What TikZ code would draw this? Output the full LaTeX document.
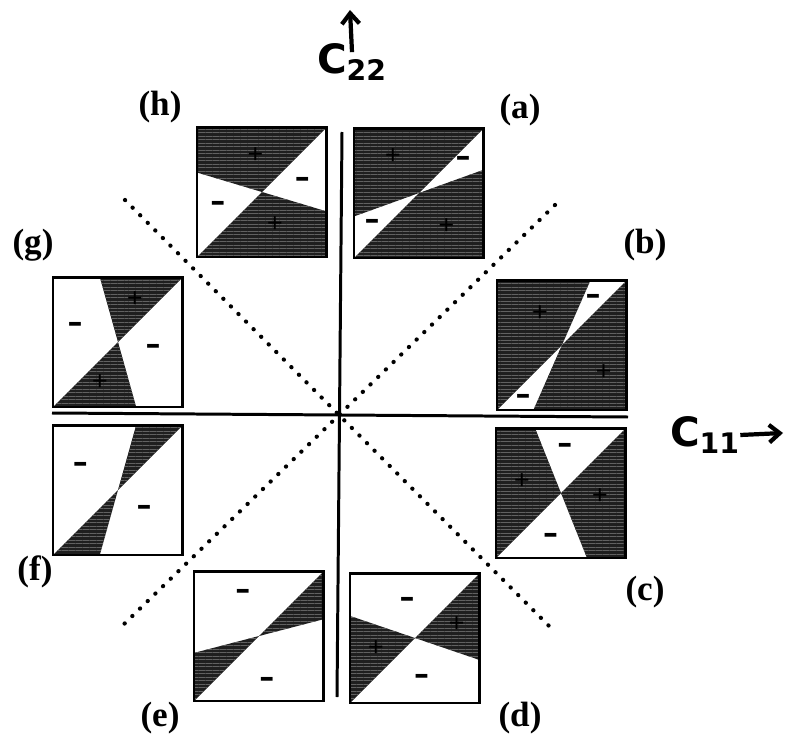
\documentclass[tikz,border=0pt]{standalone}
\usepackage{fontspec}
\setmainfont{Liberation Serif}
\newfontfamily\handfont{DejaVu Sans}
\usetikzlibrary{patterns.meta, arrows.meta}

\begin{document}
\begin{tikzpicture}[
  x=0.02cm, y=-0.02cm,
  dark/.style={preaction={fill=black!88},
               pattern={Lines[angle=0, distance=2pt, line width=0.4pt]},
               pattern color=black!62},
  panelbox/.style={draw, line width=1.7pt},
  axis/.style={line width=1.7pt},
  diag/.style={line width=2.4pt, dash pattern=on 0.1pt off 6pt, line cap=round},
  minus/.style={font=\handfont\bfseries\fontsize{17}{17}\selectfont, inner sep=0pt},
  plus/.style={font=\fontsize{16}{16}\selectfont\bfseries, text=black, inner sep=0pt},
  tag/.style={font=\fontsize{20}{22}\selectfont\bfseries},
  hand/.style={font=\handfont\bfseries\fontsize{23}{25}\selectfont, inner sep=0pt},
  scribble/.style={-{Straight Barb[length=6pt, width=10pt]}, line width=2.4pt}
]
\useasboundingbox (0,0) rectangle (785,737);

% axes and diagonals
\coordinate (ytop) at (342,132);
\coordinate (ybot) at (337,697);
\coordinate (xl) at (52,413);
\coordinate (xr) at (628,417);
\coordinate (dul) at (125,200);
\coordinate (ddr) at (555,632);
\coordinate (dur) at (555,205);
\coordinate (ddl) at (120,628);
\draw[diag] (dul) -- (ddr);
\draw[diag] (dur) -- (ddl);
\draw[axis] (ytop) -- (ybot);
\draw[axis] (xl) -- (xr);

% (h)
\begin{scope}[shift={(197,257)}, x=2.6cm, y=2.6cm]
  \path[dark] (0.5,0.5) -- (1,1) -- (0,1) -- (0,0.65) -- cycle;
  \path[dark] (0.5,0.5) -- (0,0) -- (1,0) -- (1,0.35) -- cycle;
  \draw[panelbox] (0,0) rectangle (1,1);
  \node[minus] (hm1) at (0.16,0.39) {\textendash};
  \node[minus] (hm2) at (0.81,0.57) {\textendash};
  \node[plus] (hp1) at (0.45,0.78) {+};
  \node[plus] (hp2) at (0.60,0.25) {+};
\end{scope}

% (a)
\begin{scope}[shift={(354,258)}, x=2.6cm, y=2.6cm]
  \path[dark] (0.5,0.5) -- (1,1) -- (0,1) -- (0,0.32) -- cycle;
  \path[dark] (0.5,0.5) -- (0,0) -- (1,0) -- (1,0.68) -- cycle;
  \draw[panelbox] (0,0) rectangle (1,1);
  \node[minus] (am1) at (0.84,0.74) {\textendash};
  \node[minus] (am2) at (0.14,0.26) {\textendash};
  \node[plus] (ap1) at (0.30,0.78) {+};
  \node[plus] (ap2) at (0.71,0.24) {+};
\end{scope}

% (b)
\begin{scope}[shift={(497,410)}, x=2.6cm, y=2.6cm]
  \path[dark] (0.5,0.5) -- (0.72,1) -- (0,1) -- (0,0) -- cycle;
  \path[dark] (0.5,0.5) -- (0.28,0) -- (1,0) -- (1,1) -- cycle;
  \draw[panelbox] (0,0) rectangle (1,1);
  \node[minus] (bm1) at (0.74,0.85) {\textendash};
  \node[minus] (bm2) at (0.20,0.08) {\textendash};
  \node[plus] (bp1) at (0.33,0.74) {+};
  \node[plus] (bp2) at (0.82,0.29) {+};
\end{scope}

% (c)
\begin{scope}[shift={(496,558)}, x=2.6cm, y=2.6cm]
  \path[dark] (0.5,0.5) -- (0.3,1) -- (0,1) -- (0,0) -- cycle;
  \path[dark] (0.5,0.5) -- (0.7,0) -- (1,0) -- (1,1) -- cycle;
  \draw[panelbox] (0,0) rectangle (1,1);
  \node[minus] (cm1) at (0.53,0.84) {\textendash};
  \node[minus] (cm2) at (0.42,0.15) {\textendash};
  \node[plus] (cp1) at (0.20,0.59) {+};
  \node[plus] (cp2) at (0.80,0.47) {+};
\end{scope}

% (d)
\begin{scope}[shift={(350,703)}, x=2.6cm, y=2.6cm]
  \path[dark] (0.5,0.5) -- (0,0.67) -- (0,0) -- cycle;
  \path[dark] (0.5,0.5) -- (1,1) -- (1,0.33) -- cycle;
  \draw[panelbox] (0,0) rectangle (1,1);
  \node[minus] (dm1) at (0.44,0.77) {\textendash};
  \node[minus] (dm2) at (0.55,0.18) {\textendash};
  \node[plus] (dp1) at (0.20,0.42) {+};
  \node[plus] (dp2) at (0.82,0.60) {+};
\end{scope}

% (e)
\begin{scope}[shift={(194,701)}, x=2.6cm, y=2.6cm]
  \path[dark] (0.5,0.5) -- (1,1) -- (1,0.63) -- cycle;
  \path[dark] (0.5,0.5) -- (0,0) -- (0,0.37) -- cycle;
  \draw[panelbox] (0,0) rectangle (1,1);
  \node[minus] (em1) at (0.375,0.82) {\textendash};
  \node[minus] (em2) at (0.56,0.14) {\textendash};
\end{scope}

% (f)
\begin{scope}[shift={(53,555)}, x=2.6cm, y=2.6cm]
  \path[dark] (0.5,0.5) -- (0.64,1) -- (1,1) -- cycle;
  \path[dark] (0.5,0.5) -- (0,0) -- (0.36,0) -- cycle;
  \draw[panelbox] (0,0) rectangle (1,1);
  \node[minus] (fm1) at (0.21,0.67) {\textendash};
  \node[minus] (fm2) at (0.70,0.34) {\textendash};
\end{scope}

% (g)
\begin{scope}[shift={(53,407)}, x=2.6cm, y=2.6cm]
  \path[dark] (0.5,0.5) -- (0.36,1) -- (1,1) -- cycle;
  \path[dark] (0.5,0.5) -- (0,0) -- (0.64,0) -- cycle;
  \draw[panelbox] (0,0) rectangle (1,1);
  \node[minus] (gm1) at (0.17,0.61) {\textendash};
  \node[minus] (gm2) at (0.77,0.44) {\textendash};
  \node[plus] (gp1) at (0.63,0.83) {+};
  \node[plus] (gp2) at (0.36,0.19) {+};
\end{scope}

% panel tags
\node[tag] (th) at (160,107) {(h)};
\node[tag] (ta) at (520,110) {(a)};
\node[tag] (tg) at (33,245) {(g)};
\node[tag] (tb) at (645,245) {(b)};
\node[tag] (tf) at (35,572) {(f)};
\node[tag] (tc) at (645,592) {(c)};
\node[tag] (te) at (160,718) {(e)};
\node[tag] (td) at (520,718) {(d)};

% axis names
\node[hand] (c22) at (352,62) {C\textsubscript{22}};
\coordinate (c22tip) at (350,10);
\draw[scribble] ([yshift=-5pt]c22.north) -- (c22tip);
\node[hand] (c11) at (705,435) {C\textsubscript{11}};
\coordinate (c11tip) at (783,433);
\draw[scribble] (c11.east) -- (c11tip);
\end{tikzpicture}
\end{document}
